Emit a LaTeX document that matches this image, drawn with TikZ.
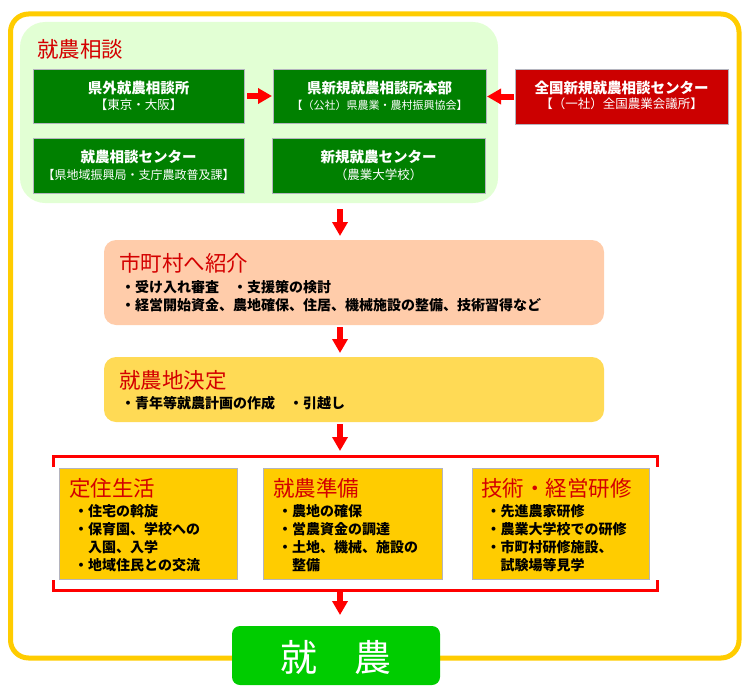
\documentclass[tikz,border=0pt]{standalone}
\usepackage{fontspec}
\setmainfont{Noto Sans CJK JP}
\usetikzlibrary{arrows.meta,calc}
\definecolor{outerY}{HTML}{FFCC00}
\definecolor{panelG}{HTML}{E2FFD4}
\definecolor{darkG}{HTML}{008000}
\definecolor{boxRed}{HTML}{CC0000}
\definecolor{salmon}{HTML}{FFCCAA}
\definecolor{lightY}{HTML}{FFDA55}
\definecolor{gold}{HTML}{FFCC00}
\definecolor{titleRed}{HTML}{D40000}
\definecolor{brightG}{HTML}{00CC00}
\definecolor{pureRed}{HTML}{FF0000}
\definecolor{edgeGray}{HTML}{B4B4BE}
\begin{document}
\begin{tikzpicture}[x=1pt,y=-1pt,
  box/.style={inner sep=0pt, outer sep=0pt, anchor=north west},
  gbox/.style={box, fill=darkG, draw=edgeGray, line width=1pt},
  rbox/.style={box, fill=boxRed, draw=edgeGray, line width=1pt},
  ybox/.style={box, fill=gold, draw=edgeGray, line width=1pt, minimum width=178pt, minimum height=111pt},
  gtitle/.style={inner sep=0pt, anchor=base, text=white, font=\fontsize{14.5}{17}\selectfont\bfseries},
  gsub/.style={inner sep=0pt, anchor=base, text=white, font=\fontsize{12.5}{15}\selectfont},
  rtitle/.style={inner sep=0pt, anchor=base west, text=titleRed, font=\fontsize{21.5}{24}\selectfont},
  bul/.style={inner sep=0pt, anchor=base west, text=black, font=\fontsize{14}{16}\selectfont\bfseries},
  arr/.style={draw=pureRed, line width=6pt, -{Triangle[width=15pt,length=14pt]}},
  brk/.style={draw=pureRed, line width=3pt}
]
\useasboundingbox (0,0) rectangle (751,693);
% outer border
\draw[outerY, line width=5pt, rounded corners=18pt] (10.5,14) rectangle (739,658);

% consultation panel
\node[box, fill=panelG, rounded corners=25pt, minimum width=478pt, minimum height=181pt] (p) at (20,22) {};
\node[rtitle] (pt) at (37,57) {就農相談};

\node[gbox, minimum width=211pt, minimum height=54pt] (b1) at (33,69) {};
\node[gbox, minimum width=213pt, minimum height=54pt] (b2) at (273,69) {};
\node[gbox, minimum width=211pt, minimum height=55pt] (b3) at (33,138) {};
\node[gbox, minimum width=213pt, minimum height=55pt] (b4) at (272,138) {};
\node[rbox, minimum width=213pt, minimum height=55pt] (r) at (515,69) {};

\node[gtitle] (b1t) at ($(b1.north)+(0,24)$) {県外就農相談所};
\node[gsub] (b1s) at ($(b1.north)+(0,40.5)$) {【東京・大阪】};
\node[gtitle] (b2t) at ($(b2.north)+(0,24)$) {県新規就農相談所本部};
\node[gsub, font=\fontsize{11}{13}\selectfont] (b2s) at ($(b2.north)+(0,40.5)$) {【（公社）県農業・農村振興協会】};
\node[gtitle] (b3t) at ($(b3.north)+(0,24.5)$) {就農相談センター};
\node[gsub, font=\fontsize{12}{14}\selectfont] (b3s) at ($(b3.north)+(0,41)$) {【県地域振興局・支庁農政普及課】};
\node[gtitle] (b4t) at ($(b4.north)+(0,24.5)$) {新規就農センター};
\node[gsub] (b4s) at ($(b4.north)+(0,41)$) {（農業大学校）};
\node[gtitle] (rt) at ($(r.north)+(0,24.5)$) {全国新規就農相談センター};
\node[gsub] (rs) at ($(r.north)+(0,39)$) {【（一社）全国農業会議所】};

\draw[arr, shorten <=3pt, shorten >=1pt] (b1.east) -- (b1.east -| b2.west);
\draw[arr, shorten <=1pt, shorten >=1pt] (r.west) -- (r.west -| b2.east);

% municipality
\coordinate (ax) at (340,0);
\node[box, fill=salmon, rounded corners=12pt, minimum width=500pt, minimum height=85pt] (s) at (104,240) {};
\node[rtitle] (st) at (119,271) {市町村へ紹介};
\node[bul] (s1) at (121,292) {・受け入れ審査　・支援策の検討};
\node[bul] (s2) at (121,310) {・経営開始資金、農地確保、住居、機械施設の整備、技術習得など};

\node[box, fill=lightY, rounded corners=12pt, minimum width=500pt, minimum height=65pt] (y) at (104,357) {};
\node[rtitle] (yt) at (119,388) {就農地決定};
\node[bul] (y1) at (121,408) {・青年等就農計画の作成　・引越し};

\draw[arr, shorten <=6pt, shorten >=4pt] (p.south -| ax) -- (s.north -| ax);
\draw[arr, shorten <=2pt, shorten >=4pt] (s.south -| ax) -- (y.north -| ax);

% bracket
\coordinate (bT) at (340,456);
\coordinate (bB) at (340,590);
\draw[brk] (53,467) -- (53,456) -- (657,456) -- (657,467);
\draw[brk] (53,580) -- (53,590) -- (657,590) -- (657,580);
\draw[arr, shorten <=2pt, shorten >=5pt] (y.south -| ax) -- (bT);

% three boxes
\node[ybox] (A) at (59,468) {};
\node[ybox, minimum width=179pt] (B) at (263,468) {};
\node[ybox, minimum width=177pt] (C) at (472,468) {};

\node[rtitle] (At) at (69,496) {定住生活};
\node[bul] (A1) at (74,516) {・住宅の斡旋};
\node[bul] (A2) at (74,534) {・保育園、学校への};
\node[bul] (A3) at (74,552) {　入園、入学};
\node[bul] (A4) at (74,570) {・地域住民との交流};

\node[rtitle] (Bt) at (273,496) {就農準備};
\node[bul] (B1) at (278,516) {・農地の確保};
\node[bul] (B2) at (278,534) {・営農資金の調達};
\node[bul] (B3) at (278,552) {・土地、機械、施設の};
\node[bul] (B4) at (278,570) {　整備};

\node[rtitle] (Ct) at (481,496) {技術・経営研修};
\node[bul] (C1) at (486.5,516) {・先進農家研修};
\node[bul] (C2) at (486.5,534) {・農業大学校での研修};
\node[bul] (C3) at (486.5,552) {・市町村研修施設、};
\node[bul] (C4) at (486.5,570) {　試験場等見学};

% final
\node[box, fill=brightG, rounded corners=8pt, minimum width=208pt, minimum height=59pt] (f) at (232,626) {};
\node[inner sep=0pt, anchor=base, text=white, font=\fontsize{37}{40}\selectfont] (ft) at (336,671) {就　農};
\draw[arr, shorten >=11pt] (bB) -- (bB |- f.north);
\end{tikzpicture}
\end{document}
